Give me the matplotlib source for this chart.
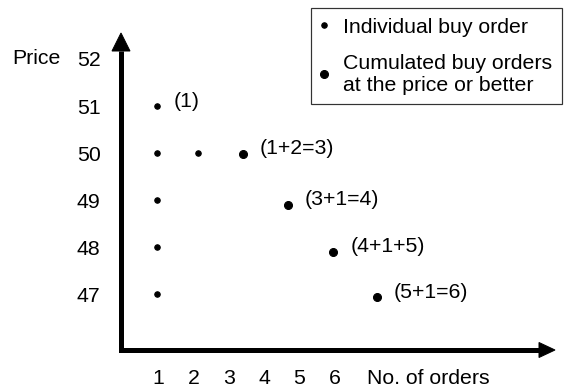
import matplotlib
matplotlib.use("Agg")
import matplotlib.pyplot as plt
from matplotlib.lines import Line2D
from matplotlib.patches import Polygon
from matplotlib.transforms import blended_transform_factory

plt.rcParams["font.family"] = ["Liberation Sans", "DejaVu Sans"]

# --- datos ---
prices = [52, 51, 50, 49, 48, 47]
order_ticks = [1, 2, 3, 4, 5, 6]

# ordenes individuales (x = posicion en "No. of orders", y = precio)
ind_x = [0.95, 0.97, 2.13, 0.97, 0.97, 0.97]
ind_y = [51, 50, 50, 49, 48, 47]

# ordenes acumuladas (puntos grandes)
cum_x = [3.40, 4.68, 5.96, 7.20]
cum_y = [49.98, 48.90, 47.90, 46.93]

labels = ["(1)", "(1+2=3)", "(3+1=4)", "(4+1+5)", "(5+1=6)"]
label_x = [ind_x[0]] + cum_x
label_y = [ind_y[0]] + cum_y

W, H, DPI = 564, 387, 72
FS = 21.3

fig = plt.figure(figsize=(W / DPI, H / DPI), dpi=DPI)


def fx(x):
    return x / W


def fy(y):
    return 1 - y / H


# caja de ejes: izquierda 120.5 px, abajo 350 px, derecha 540 px, arriba 51 px
ax = fig.add_axes([fx(120.5), fy(350), fx(540) - fx(120.5), fy(51) - fy(350)])
ax.set_xlim(-0.076, 11.83)
ax.set_ylim(45.81, 52.17)
for s in ax.spines.values():
    s.set_visible(False)

ax.set_xticks(order_ticks)
ax.set_xticklabels([str(t) for t in order_ticks])
ax.set_yticks(prices)
ax.set_yticklabels([str(p) for p in prices])
ax.tick_params(axis="x", length=0, pad=19, labelsize=FS)
ax.tick_params(axis="y", length=0, pad=20, labelsize=FS)

# ejes con flechas
ax.plot([0, 0, 1], [1, 0, 0], transform=ax.transAxes, color="black", lw=5,
        clip_on=False, solid_joinstyle="miter", solid_capstyle="butt")
fig.patches.append(Polygon([(fx(112), fy(51)), (fx(130), fy(51)), (fx(121), fy(33))],
                           closed=True, color="black", transform=fig.transFigure))
fig.patches.append(Polygon([(fx(539), fy(342.5)), (fx(539), fy(357.5)), (fx(555), fy(350))],
                           closed=True, color="black", transform=fig.transFigure))

# puntos
ax.plot(ind_x, ind_y, "o", color="black", ms=5.5, clip_on=False)
ax.plot(cum_x, cum_y, "o", color="black", ms=8, clip_on=False)

for t, x, y in zip(labels, label_x, label_y):
    ax.annotate(t, xy=(x, y), xytext=(17, 5), textcoords="offset points",
                fontsize=FS, va="center", ha="left")

# titulos de ejes
tr = blended_transform_factory(fig.transFigure, ax.transData)
ax.text(fx(12), 52, "Price", transform=tr, fontsize=FS, va="center", ha="left")
ax.annotate("No. of orders", xy=(6.92, 0), xycoords=("data", "axes fraction"),
            xytext=(0, -19), textcoords="offset points",
            fontsize=FS, va="top", ha="left")

# leyenda
handles = [
    Line2D([], [], ls="none", marker="o", ms=5.5, color="black"),
    Line2D([], [], ls="none", marker="o", ms=8, color="black"),
]
leg = fig.legend(handles, ["Individual buy order", "Cumulated buy orders\nat the price or better"],
                 loc="upper right", bbox_to_anchor=(fx(562), fy(8)),
                 fontsize=FS, frameon=True, fancybox=False, borderaxespad=0,
                 borderpad=0.45, handlelength=0.3, handletextpad=0.75,
                 labelspacing=0.8)
leg.get_frame().set_edgecolor("black")
leg.get_frame().set_linewidth(1.2)

fig.savefig("out.png", dpi=DPI)
